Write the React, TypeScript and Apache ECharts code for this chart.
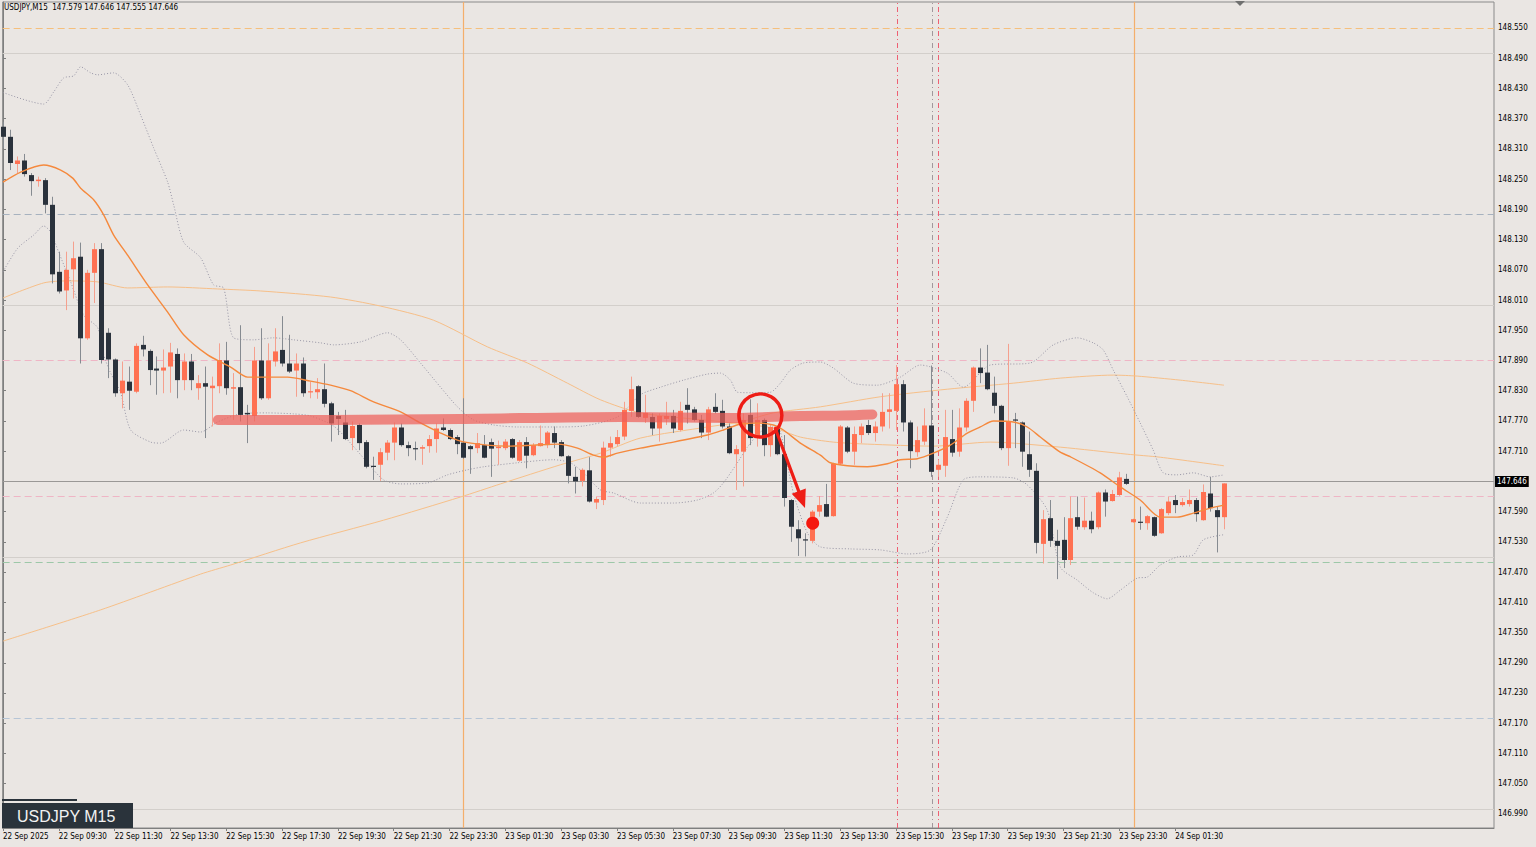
import React, { useEffect, useRef } from 'react';
import * as echarts from 'echarts';

const FONT = '"DejaVu Sans Condensed", "Liberation Sans", Arial, sans-serif';
const BADGE_FONT = '"Liberation Sans", Arial, sans-serif';

const headerText = 'USDJPY,M15  147.579 147.646 147.555 147.646';
const badgeText = 'USDJPY M15';
const lastPrice = 147.646;

// bar index of each time label (15-minute bars, index 0 = 22 Sep 07:30)
const timeTicks = [0, 8, 16, 24, 32, 40, 48, 56, 64, 72, 80, 88, 96, 104, 112, 120, 128, 136, 144, 152, 160, 168];
const timeLabels = [
  '22 Sep 2025', '22 Sep 09:30', '22 Sep 11:30', '22 Sep 13:30', '22 Sep 15:30', '22 Sep 17:30',
  '22 Sep 19:30', '22 Sep 21:30', '22 Sep 23:30', '23 Sep 01:30', '23 Sep 03:30', '23 Sep 05:30',
  '23 Sep 07:30', '23 Sep 09:30', '23 Sep 11:30', '23 Sep 13:30', '23 Sep 15:30', '23 Sep 17:30',
  '23 Sep 19:30', '23 Sep 21:30', '23 Sep 23:30', '24 Sep 01:30',
];

const priceTicks = [
  146.99, 147.05, 147.11, 147.17, 147.23, 147.29, 147.35, 147.41, 147.47, 147.53, 147.59, 147.65, 147.71,
  147.77, 147.83, 147.89, 147.95, 148.01, 148.07, 148.13, 148.19, 148.25, 148.31, 148.37, 148.43, 148.49, 148.55,
];

// [open, high, low, close]
const bars: number[][] = [
  [148.354, 148.364, 148.312, 148.334], [148.334, 148.348, 148.268, 148.282], [148.280, 148.295, 148.262, 148.287],
  [148.287, 148.300, 148.255, 148.260], [148.258, 148.262, 148.217, 148.246], [148.246, 148.255, 148.235, 148.249],
  [148.248, 148.252, 148.182, 148.199], [148.199, 148.215, 148.043, 148.061], [148.066, 148.106, 148.023, 148.027],
  [148.029, 148.106, 147.990, 148.070], [148.071, 148.126, 148.013, 148.093], [148.096, 148.124, 147.884, 147.934],
  [147.934, 148.070, 147.931, 148.064], [148.064, 148.123, 148.004, 148.111], [148.111, 148.123, 147.884, 147.891],
  [147.945, 147.954, 147.855, 147.892], [147.892, 147.894, 147.818, 147.825], [147.825, 147.888, 147.795, 147.850],
  [147.848, 147.878, 147.792, 147.830], [147.828, 147.924, 147.825, 147.919], [147.921, 147.939, 147.898, 147.912],
  [147.909, 147.912, 147.841, 147.871], [147.874, 147.898, 147.822, 147.870], [147.870, 147.912, 147.825, 147.876],
  [147.878, 147.925, 147.826, 147.906], [147.903, 147.914, 147.815, 147.851], [147.851, 147.904, 147.831, 147.888],
  [147.888, 147.903, 147.831, 147.851], [147.835, 147.861, 147.812, 147.845], [147.845, 147.878, 147.736, 147.838],
  [147.835, 147.858, 147.759, 147.840], [147.839, 147.924, 147.825, 147.891], [147.890, 147.927, 147.822, 147.835],
  [147.834, 147.865, 147.772, 147.837], [147.837, 147.960, 147.769, 147.782], [147.786, 147.802, 147.726, 147.783],
  [147.780, 147.917, 147.769, 147.890], [147.890, 147.954, 147.812, 147.815], [147.815, 147.924, 147.812, 147.890],
  [147.888, 147.954, 147.878, 147.908], [147.911, 147.978, 147.878, 147.884], [147.884, 147.941, 147.865, 147.868],
  [147.870, 147.904, 147.818, 147.884], [147.884, 147.896, 147.818, 147.825], [147.827, 147.848, 147.815, 147.829],
  [147.827, 147.855, 147.814, 147.833], [147.833, 147.884, 147.797, 147.804], [147.805, 147.808, 147.729, 147.765],
  [147.780, 147.788, 147.742, 147.774], [147.767, 147.792, 147.732, 147.734], [147.736, 147.769, 147.712, 147.760],
  [147.762, 147.765, 147.712, 147.726], [147.728, 147.732, 147.676, 147.679], [147.681, 147.699, 147.653, 147.679],
  [147.683, 147.716, 147.651, 147.708], [147.707, 147.732, 147.692, 147.727], [147.727, 147.767, 147.692, 147.757],
  [147.757, 147.765, 147.719, 147.722], [147.722, 147.729, 147.700, 147.716], [147.716, 147.729, 147.692, 147.714],
  [147.715, 147.722, 147.683, 147.718], [147.720, 147.742, 147.707, 147.734], [147.734, 147.765, 147.707, 147.755],
  [147.757, 147.775, 147.750, 147.752], [147.752, 147.755, 147.732, 147.734], [147.738, 147.742, 147.704, 147.724],
  [147.727, 147.815, 147.695, 147.697], [147.720, 147.722, 147.665, 147.714], [147.716, 147.746, 147.706, 147.726],
  [147.722, 147.742, 147.696, 147.697], [147.728, 147.735, 147.659, 147.715], [147.716, 147.731, 147.683, 147.719],
  [147.716, 147.734, 147.712, 147.729], [147.734, 147.736, 147.695, 147.697], [147.691, 147.732, 147.689, 147.728],
  [147.728, 147.738, 147.676, 147.701], [147.702, 147.726, 147.700, 147.722], [147.720, 147.761, 147.719, 147.726],
  [147.722, 147.750, 147.716, 147.747], [147.746, 147.759, 147.716, 147.727], [147.728, 147.732, 147.699, 147.700],
  [147.700, 147.702, 147.646, 147.661], [147.659, 147.679, 147.626, 147.650], [147.651, 147.676, 147.640, 147.673],
  [147.672, 147.698, 147.608, 147.610], [147.608, 147.620, 147.595, 147.615], [147.613, 147.729, 147.603, 147.717],
  [147.717, 147.739, 147.699, 147.726], [147.724, 147.752, 147.720, 147.738], [147.739, 147.808, 147.732, 147.792],
  [147.790, 147.858, 147.778, 147.833], [147.839, 147.841, 147.776, 147.778], [147.776, 147.822, 147.766, 147.786],
  [147.778, 147.785, 147.742, 147.755], [147.755, 147.785, 147.729, 147.780], [147.774, 147.808, 147.762, 147.780],
  [147.780, 147.792, 147.746, 147.755], [147.752, 147.808, 147.749, 147.790], [147.802, 147.835, 147.765, 147.792],
  [147.793, 147.798, 147.769, 147.772], [147.772, 147.782, 147.736, 147.747], [147.747, 147.798, 147.732, 147.793],
  [147.798, 147.825, 147.785, 147.788], [147.790, 147.812, 147.755, 147.759], [147.759, 147.765, 147.704, 147.706],
  [147.704, 147.722, 147.633, 147.714], [147.709, 147.785, 147.640, 147.772], [147.782, 147.813, 147.722, 147.736],
  [147.736, 147.805, 147.719, 147.772], [147.772, 147.775, 147.700, 147.722], [147.722, 147.762, 147.699, 147.758],
  [147.755, 147.759, 147.702, 147.704], [147.704, 147.742, 147.600, 147.617], [147.613, 147.615, 147.530, 147.560],
  [147.555, 147.573, 147.502, 147.537], [147.535, 147.547, 147.501, 147.533], [147.532, 147.593, 147.527, 147.590],
  [147.590, 147.621, 147.580, 147.603], [147.605, 147.645, 147.579, 147.580], [147.581, 147.687, 147.580, 147.685],
  [147.685, 147.762, 147.683, 147.759], [147.757, 147.760, 147.706, 147.709], [147.709, 147.759, 147.683, 147.744],
  [147.742, 147.765, 147.726, 147.759], [147.762, 147.772, 147.742, 147.746], [147.746, 147.769, 147.729, 147.759],
  [147.759, 147.825, 147.749, 147.788], [147.788, 147.825, 147.755, 147.793], [147.790, 147.881, 147.752, 147.843],
  [147.843, 147.851, 147.749, 147.767], [147.767, 147.771, 147.676, 147.710], [147.708, 147.759, 147.699, 147.732],
  [147.729, 147.795, 147.722, 147.761], [147.761, 147.880, 147.659, 147.669], [147.673, 147.693, 147.659, 147.683],
  [147.681, 147.792, 147.659, 147.738], [147.734, 147.792, 147.699, 147.707], [147.709, 147.795, 147.699, 147.757],
  [147.757, 147.815, 147.749, 147.810], [147.810, 147.878, 147.788, 147.876], [147.876, 147.914, 147.845, 147.865],
  [147.866, 147.921, 147.831, 147.833], [147.826, 147.858, 147.785, 147.800], [147.800, 147.802, 147.712, 147.716],
  [147.716, 147.923, 147.681, 147.769], [147.773, 147.786, 147.716, 147.771], [147.767, 147.769, 147.679, 147.709],
  [147.704, 147.749, 147.659, 147.673], [147.671, 147.686, 147.507, 147.528], [147.526, 147.593, 147.487, 147.575],
  [147.577, 147.613, 147.520, 147.532], [147.532, 147.554, 147.456, 147.522], [147.534, 147.579, 147.478, 147.494],
  [147.494, 147.620, 147.484, 147.577], [147.579, 147.620, 147.554, 147.560], [147.559, 147.618, 147.554, 147.572],
  [147.572, 147.590, 147.547, 147.555], [147.559, 147.630, 147.555, 147.628], [147.628, 147.634, 147.580, 147.610],
  [147.611, 147.633, 147.610, 147.625], [147.623, 147.669, 147.621, 147.658], [147.655, 147.665, 147.643, 147.645],
  [147.569, 147.576, 147.568, 147.575], [147.570, 147.600, 147.554, 147.568], [147.567, 147.583, 147.554, 147.581],
  [147.579, 147.580, 147.540, 147.542], [147.547, 147.597, 147.546, 147.595], [147.587, 147.620, 147.583, 147.610],
  [147.613, 147.623, 147.587, 147.603], [147.603, 147.617, 147.600, 147.609], [147.605, 147.634, 147.600, 147.613],
  [147.613, 147.617, 147.570, 147.585], [147.573, 147.644, 147.572, 147.629], [147.626, 147.659, 147.590, 147.597],
  [147.593, 147.600, 147.509, 147.579], [147.579, 147.646, 147.555, 147.646],
];

// indicator lines: [bar index, price]
const fastMA = [
  [0, 148.244], [2.54, 148.264], [5.83, 148.278], [8.27, 148.268], [9.99, 148.252], [11.13, 148.232],
  [12.99, 148.209], [14.43, 148.179], [15.86, 148.139], [17.86, 148.099], [20.73, 148.040], [23.6, 147.986],
  [25.89, 147.941], [29.33, 147.901], [32.62, 147.877], [35.06, 147.857], [37.92, 147.857], [40.79, 147.857],
  [44.08, 147.849], [46.95, 147.841], [49.81, 147.830], [53.11, 147.808], [56.98, 147.788], [59.84, 147.766],
  [62.71, 147.746], [65.57, 147.730], [69.44, 147.722], [72.31, 147.720], [76.03, 147.722], [79.47, 147.724],
  [82.34, 147.716], [84.63, 147.702], [86.06, 147.698], [88.07, 147.706], [91.36, 147.716], [96.09, 147.728],
  [100.96, 147.742], [103.25, 147.752], [105.69, 147.764], [108.12, 147.766], [110.42, 147.762], [111.85, 147.752],
  [114.28, 147.726], [117.15, 147.702], [118.58, 147.687], [121.02, 147.681], [123.89, 147.679], [126.75, 147.685],
  [128.61, 147.693], [131.05, 147.695], [133.34, 147.706], [135.77, 147.722], [138.21, 147.746], [140.07, 147.758],
  [141.94, 147.770], [144.8, 147.768], [146.81, 147.758], [148.67, 147.738], [151.53, 147.708], [152.96, 147.699],
  [157.26, 147.667], [160.13, 147.639], [162.99, 147.613], [165.86, 147.579], [168.29, 147.579], [170.6, 147.587],
  [173.03, 147.597], [175, 147.603],
];

const slowMA = [
  [0, 148.014], [5.83, 148.044], [9.27, 148.048], [13.57, 148.046], [17.86, 148.034], [23.6, 148.036],
  [30.76, 148.032], [36.92, 148.028], [46.95, 148.016], [54.11, 147.998], [61.7, 147.970], [69.44, 147.917],
  [75.17, 147.885], [80.9, 147.845], [85.63, 147.812], [91.36, 147.786], [103.25, 147.768], [110.42, 147.756],
  [114.28, 147.738], [119.0, 147.728], [123.89, 147.724], [133.34, 147.720], [141.5, 147.728], [151.53, 147.718],
  [161.13, 147.704], [165.86, 147.698], [175, 147.681],
];

const longMA = [
  [0, 147.333], [14.0, 147.395], [28.32, 147.466], [32.62, 147.484], [42.65, 147.528], [54.54, 147.573],
  [65.57, 147.619], [71.3, 147.645], [79.9, 147.683], [85.63, 147.706], [91.36, 147.736], [100.96, 147.758],
  [105.69, 147.768], [110.42, 147.786], [117.15, 147.798], [125.75, 147.818], [135.34, 147.833], [144.8, 147.845],
  [151.53, 147.855], [159.13, 147.861], [162.56, 147.859], [168.72, 147.851], [175, 147.841],
];

const bandUpper = [
  [0, 148.422], [5.83, 148.399], [7.26, 148.423], [8.70, 148.451], [10.13, 148.455], [11.13, 148.473],
  [12.56, 148.461], [13.57, 148.457], [15.86, 148.461], [17.87, 148.437], [19.73, 148.377], [21.59, 148.312],
  [23.6, 148.244], [24.46, 148.199], [25.89, 148.125], [28.32, 148.094], [30.19, 148.040], [31.62, 148.034],
  [33.05, 147.935], [35.92, 147.931], [38.78, 147.935], [41.65, 147.931], [45.52, 147.925], [47.38, 147.921],
  [51.25, 147.927], [55.11, 147.945], [56.98, 147.931], [59.84, 147.885], [62.71, 147.837], [65.14, 147.798],
  [67.44, 147.772], [70.30, 147.762], [73.74, 147.758], [78.9, 147.758], [83.2, 147.760], [88.07, 147.778],
  [91.36, 147.822], [94.23, 147.837], [97.52, 147.851], [100.96, 147.863], [102.82, 147.865], [104.26, 147.851],
  [105.26, 147.827], [107.12, 147.826], [109.98, 147.827], [111.42, 147.845], [112.85, 147.871], [114.71, 147.885],
  [117.15, 147.887], [119.01, 147.875], [121.88, 147.845], [125.32, 147.841], [128.61, 147.857], [131.48, 147.881],
  [135.34, 147.865], [137.63, 147.837], [141.5, 147.881], [147.23, 147.885], [150.53, 147.921], [153.97, 147.935],
  [156.26, 147.925], [157.69, 147.911], [159.13, 147.871], [161.13, 147.818], [162.99, 147.766], [164.86, 147.712],
  [166.29, 147.667], [168.29, 147.663], [170.6, 147.667], [173.03, 147.659], [175, 147.663],
];

const bandLower = [
  [0, 148.066], [2.11, 148.113], [4.40, 148.139], [5.83, 148.157], [6.83, 148.145], [7.98, 148.105],
  [9.70, 148.046], [11.56, 147.980], [13.57, 147.955], [14.43, 147.901], [15.43, 147.865], [16.86, 147.826],
  [18.3, 147.752], [21.16, 147.728], [22.59, 147.726], [25.89, 147.752], [28.32, 147.748], [30.76, 147.768],
  [34.05, 147.784], [37.92, 147.786], [41.65, 147.784], [44.08, 147.780], [47.38, 147.760], [49.81, 147.726],
  [52.25, 147.687], [54.54, 147.653], [56.98, 147.645], [60.85, 147.647], [63.71, 147.663], [66.57, 147.673],
  [68.87, 147.679], [73.74, 147.687], [78.9, 147.693], [81.33, 147.687], [83.2, 147.667], [85.63, 147.633],
  [87.49, 147.627], [91.36, 147.607], [96.09, 147.607], [99.53, 147.613], [101.82, 147.627], [103.25, 147.647],
  [105.26, 147.687], [106.69, 147.718], [108.55, 147.748], [110.42, 147.758], [111.42, 147.748], [113.28, 147.627],
  [115.28, 147.548], [117.15, 147.520], [121.45, 147.516], [125.75, 147.514], [129.62, 147.506], [132.91, 147.514],
  [135.34, 147.579], [137.63, 147.653], [140.07, 147.659], [144.8, 147.657], [146.81, 147.643], [149.67, 147.593],
  [151.53, 147.480], [153.97, 147.454], [156.26, 147.429], [158.27, 147.417], [160.13, 147.434], [162.56, 147.458],
  [163.99, 147.460], [165.86, 147.484], [168.29, 147.500], [170.6, 147.504], [172.03, 147.534], [174.88, 147.544],
];

// hand-drawn annotations: [bar index, price]
const zoneStroke = [
  [30.8, 147.772], [46.95, 147.772], [65.57, 147.774], [88.5, 147.778], [104.7, 147.776], [114.3, 147.780],
  [120.5, 147.781], [124.6, 147.783],
];
const circleMark = [108.55, 147.781];
const arrowLine = [[110.7, 147.755, 114.95, 147.597]];
const dotMark = [116.05, 147.567];

const dashedLevels = [
  { price: 148.553, color: '#F5BF7C' },
  { price: 148.184, color: '#A7B2BF' },
  { price: 147.886, color: '#EFB5C5' },
  { price: 147.620, color: '#EFB5C5' },
  { price: 147.486, color: '#9DC8A8' },
  { price: 147.176, color: '#B6C5D6' },
];
const roundLevels = [148.5, 148.0, 147.5, 147.0];
const daySeparators = [66.02, 162.08];
const redVerticals = [128.12, 134.1];
const grayVerticals = [133.15];

const UP = '#FF7152';
const DOWN = '#2A323C';
const UP_WICK = '#F5A08E';
const DOWN_WICK = '#868B91';
const MARK_RED = '#EE1D16';

export default function App() {
  const ref = useRef<HTMLDivElement>(null);

  useEffect(() => {
    if (!ref.current) return;
    const chart = echarts.init(ref.current, undefined, { renderer: 'svg' });

    const candleData = bars.map((b, i) => [i, b[0], b[1], b[2], b[3]]);

    const bgLines: any[] = [];
    roundLevels.forEach((p) =>
      bgLines.push({ yAxis: p, lineStyle: { color: '#D3CFCB', type: 'solid', width: 1 } }),
    );
    dashedLevels.forEach((l) =>
      bgLines.push({ yAxis: l.price, lineStyle: { color: l.color, type: [7, 4], width: 1 } }),
    );
    daySeparators.forEach((x) =>
      bgLines.push({ xAxis: x, lineStyle: { color: '#F4AE6B', type: 'solid', width: 1.2 } }),
    );
    redVerticals.forEach((x) =>
      bgLines.push({ xAxis: x, lineStyle: { color: '#EE5F72', type: [5, 3, 1, 3], width: 1 } }),
    );
    grayVerticals.forEach((x) =>
      bgLines.push({ xAxis: x, lineStyle: { color: '#A0979B', type: [5, 3, 1, 3], width: 1 } }),
    );
    bgLines.push({
      yAxis: lastPrice,
      lineStyle: { color: '#9A9896', type: 'solid', width: 1 },
      label: {
        show: true,
        position: 'end',
        distance: 1,
        formatter: lastPrice.toFixed(3),
        backgroundColor: '#000',
        color: '#fff',
        fontFamily: FONT,
        fontSize: 8,
        padding: [2, 2, 1, 2],
      },
    });

    const indicator = (data: number[][], color: string, width: number, type: any, z: number) => ({
      type: 'line',
      data,
      showSymbol: false,
      symbol: 'none',
      smooth: 0.25,
      silent: true,
      z,
      lineStyle: { color, width, type },
    });

    chart.setOption({
      animation: false,
      backgroundColor: '#EAE6E3',
      grid: {
        left: 2,
        right: 42,
        top: 2,
        bottom: 19,
        show: true,
        borderColor: '#8A8A8A',
        borderWidth: 1,
        backgroundColor: 'transparent',
      },
      xAxis: {
        type: 'value',
        min: -0.05,
        max: 213.7,
        axisLine: { show: true, lineStyle: { color: '#7F7F7F', width: 1 } },
        axisTick: { show: true, customValues: timeTicks, length: 3, lineStyle: { color: '#7F7F7F' } },
        axisLabel: {
          customValues: timeTicks,
          formatter: (v: number) => timeLabels[timeTicks.indexOf(Math.round(v))] ?? '',
          align: 'left',
          margin: 4,
          color: '#000',
          fontFamily: FONT,
          fontSize: 8,
        },
        splitLine: { show: false },
      },
      yAxis: {
        type: 'value',
        position: 'right',
        min: 146.962,
        max: 148.6016,
        axisLine: { show: true, lineStyle: { color: '#7F7F7F', width: 1 } },
        axisTick: { show: true, customValues: priceTicks, length: 3, lineStyle: { color: '#7F7F7F' } },
        axisLabel: {
          customValues: priceTicks,
          formatter: (v: number) => v.toFixed(3),
          margin: 4,
          color: '#000',
          fontFamily: FONT,
          fontSize: 8,
        },
        splitLine: { show: false },
      },
      series: [
        {
          type: 'line',
          data: [],
          silent: true,
          markLine: { silent: true, symbol: 'none', z: 1, label: { show: false }, data: bgLines },
        },
        indicator(longMA, '#F7C089', 1, 'solid', 2),
        indicator(slowMA, '#F7BF88', 1, 'solid', 2),
        indicator(bandUpper, '#9896A6', 1, [1, 2], 2),
        indicator(bandLower, '#9896A6', 1, [1, 2], 2),
        {
          type: 'custom',
          z: 3,
          silent: true,
          data: candleData,
          encode: { x: 0, y: [1, 2, 3, 4] },
          renderItem: (_params: any, api: any) => {
            const i = api.value(0);
            const o = api.value(1);
            const h = api.value(2);
            const l = api.value(3);
            const c = api.value(4);
            const pH = api.coord([i, h]);
            const pL = api.coord([i, l]);
            const pO = api.coord([i, o]);
            const pC = api.coord([i, c]);
            const bull = c >= o;
            const cx = Math.round(pH[0]) + 0.5;
            const top = Math.min(pO[1], pC[1]);
            const bot = Math.max(pO[1], pC[1]);
            return {
              type: 'group',
              children: [
                {
                  type: 'line',
                  shape: { x1: cx, y1: pH[1], x2: cx, y2: pL[1] },
                  style: { stroke: bull ? UP_WICK : DOWN_WICK, lineWidth: 1 },
                },
                {
                  type: 'rect',
                  shape: { x: cx - 2.5, y: top, width: 5, height: Math.max(1.2, bot - top) },
                  style: { fill: bull ? UP : DOWN },
                },
              ],
            };
          },
        },
        indicator(fastMA, '#F5893D', 1.4, 'solid', 4),
        {
          type: 'line',
          data: zoneStroke,
          showSymbol: false,
          symbol: 'none',
          smooth: 0.3,
          silent: true,
          z: 6,
          lineStyle: { color: 'rgba(238, 96, 90, 0.72)', width: 10, cap: 'round', join: 'round' },
        },
        {
          type: 'scatter',
          data: [circleMark],
          symbol: 'circle',
          symbolSize: 43,
          silent: true,
          z: 7,
          itemStyle: { color: 'rgba(0,0,0,0)', borderColor: MARK_RED, borderWidth: 3.5, opacity: 1 },
        },
        {
          type: 'scatter',
          data: [dotMark],
          symbol: 'circle',
          symbolSize: 13,
          silent: true,
          z: 7,
          itemStyle: { color: '#F5180F', opacity: 1 },
        },
        {
          type: 'custom',
          z: 8,
          silent: true,
          data: arrowLine,
          encode: { x: [0, 2], y: [1, 3] },
          renderItem: (_params: any, api: any) => {
            const p1 = api.coord([api.value(0), api.value(1)]);
            const p2 = api.coord([api.value(2), api.value(3)]);
            const dx = p2[0] - p1[0];
            const dy = p2[1] - p1[1];
            const len = Math.sqrt(dx * dx + dy * dy) || 1;
            const ux = dx / len;
            const uy = dy / len;
            const headLen = 18;
            const headHalf = 7.5;
            const bx = p2[0] - ux * headLen;
            const by = p2[1] - uy * headLen;
            return {
              type: 'group',
              children: [
                {
                  type: 'line',
                  shape: { x1: p1[0], y1: p1[1], x2: bx + ux * 2, y2: by + uy * 2 },
                  style: { stroke: MARK_RED, lineWidth: 3.2, lineCap: 'round' },
                },
                {
                  type: 'polygon',
                  shape: {
                    points: [
                      [p2[0], p2[1]],
                      [bx - uy * headHalf, by + ux * headHalf],
                      [bx + uy * headHalf, by - ux * headHalf],
                    ],
                  },
                  style: { fill: MARK_RED },
                },
              ],
            };
          },
        },
      ],
      graphic: [
        {
          type: 'text',
          x: 4,
          y: 3,
          z: 100,
          style: { text: headerText, fontFamily: FONT, fontSize: 8, fill: '#000' },
        },
        {
          type: 'rect',
          z: 100,
          shape: { x: 2, y: 799, width: 75, height: 2 },
          style: { fill: '#2A333B' },
        },
        {
          type: 'rect',
          z: 100,
          shape: { x: 2, y: 803, width: 131, height: 25 },
          style: { fill: '#2A333B' },
        },
        {
          type: 'text',
          x: 17,
          y: 816,
          z: 101,
          style: {
            text: badgeText,
            fontFamily: BADGE_FONT,
            fontSize: 16,
            fill: '#F2F2F2',
            verticalAlign: 'middle',
          },
        },
        {
          type: 'polygon',
          z: 100,
          shape: { points: [[1235, 1], [1245, 1], [1240, 6]] },
          style: { fill: '#707070' },
        },
      ],
    });

    return () => chart.dispose();
  }, []);

  return (
    <div
      ref={ref}
      style={{ position: 'fixed', left: 0, top: 0, width: 1536, height: 847, background: '#EAE6E3' }}
    />
  );
}
